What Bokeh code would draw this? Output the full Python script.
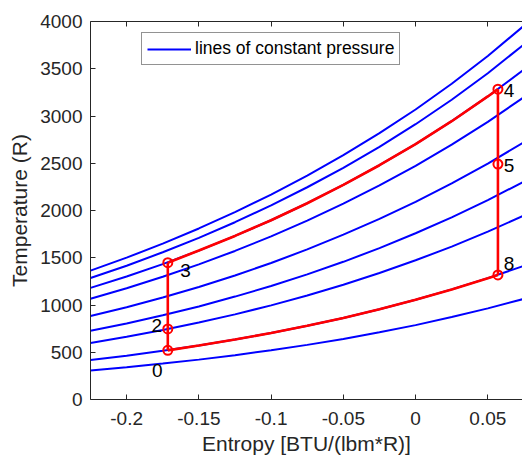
from bokeh.plotting import figure
from bokeh.models import Range1d, LinearAxis, FixedTicker, Legend, LegendItem
from bokeh.core.properties import value
from bokeh.embed import file_html
from bokeh.resources import INLINE

# ---- data ----
S = [-0.225, -0.2, -0.175, -0.15, -0.125, -0.1, -0.075, -0.05, -0.025, 0.0, 0.025, 0.05, 0.075]

T_iso1 = [1364, 1501, 1649, 1810, 1983, 2169, 2370, 2586, 2818, 3069, 3341, 3635, 3955]
T_iso2 = [1286, 1416, 1558, 1710, 1876, 2054, 2246, 2452, 2674, 2913, 3172, 3453, 3757]
T_iso3 = [1181, 1302, 1433, 1576, 1731, 1897, 2077, 2271, 2479, 2703, 2945, 3207, 3491]
T_iso4 = [1067, 1178, 1299, 1430, 1572, 1726, 1893, 2072, 2265, 2473, 2697, 2938, 3199]
T_iso5 = [883, 977, 1079, 1191, 1312, 1445, 1588, 1744, 1912, 2092, 2287, 2497, 2722]
T_iso6 = [727, 805, 891, 985, 1089, 1201, 1324, 1457, 1602, 1759, 1928, 2110, 2306]
T_iso7 = [598, 663, 735, 814, 901, 996, 1100, 1214, 1338, 1473, 1618, 1776, 1947]
T_iso8 = [418, 464, 516, 572, 635, 704, 780, 863, 955, 1055, 1165, 1284, 1414]
T_iso9 = [308, 342, 380, 422, 469, 521, 578, 641, 711, 787, 872, 964, 1065]

cycle_names = ["0", "2", "3", "4", "5", "8"]
cycle_s = [-0.1715, -0.1715, -0.1715, 0.057, 0.057, 0.057]
cycle_T = [520, 747, 1448, 3284, 2491, 1318]

label_s = [-0.1788, -0.1792, -0.1592, 0.0646, 0.0646, 0.0646]
label_T = [307, 783, 1365, 3269, 2476, 1436]

x_ticks = [-0.2, -0.15, -0.1, -0.05, 0.0, 0.05]
x_tick_labels = ["-0.2", "-0.15", "-0.1", "-0.05", "0", "0.05"]
y_ticks = [0, 500, 1000, 1500, 2000, 2500, 3000, 3500, 4000]

AX = "#262626"
FONT = "Liberation Sans"

p = figure(width=522, height=460, output_backend="svg", toolbar_location=None,
           x_range=Range1d(-0.225, 0.074), y_range=Range1d(0, 4000),
           min_border_left=90, min_border_right=0, min_border_top=21, min_border_bottom=61)
p.xgrid.visible = False
p.ygrid.visible = False
p.outline_line_color = None
p.background_fill_color = "white"


def style_axis(ax):
    ax.axis_line_color = AX
    ax.axis_line_width = 1
    ax.major_tick_line_color = AX
    ax.major_tick_in = 5
    ax.major_tick_out = 0
    ax.minor_tick_in = 0
    ax.minor_tick_out = 0
    ax.major_label_text_color = AX
    ax.major_label_text_font = FONT
    ax.major_label_text_font_size = "19px"
    ax.axis_label_text_font = FONT
    ax.axis_label_text_font_size = "21px"
    ax.axis_label_text_font_style = "normal"
    ax.axis_label_text_color = AX


xa = p.xaxis[0]
xa.ticker = FixedTicker(ticks=x_ticks)
xa.major_label_overrides = {t: l for t, l in zip(x_ticks, x_tick_labels)}
xa.axis_label = "Entropy [BTU/(lbm*R)]"
style_axis(xa)
xa.major_label_standoff = 12
xa.axis_label_standoff = 4

ya = p.yaxis[0]
ya.ticker = FixedTicker(ticks=y_ticks)
ya.axis_label = "Temperature (R)"
style_axis(ya)
ya.major_label_standoff = 8
ya.axis_label_standoff = 6

top = LinearAxis(ticker=FixedTicker(ticks=x_ticks))
style_axis(top)
top.major_label_overrides = {t: "" for t in x_ticks}
top.major_label_standoff = 0
p.add_layout(top, "above")

# isobars
BLUE = "#0000ff"
RED = "#ff0000"
isobars = [T_iso1, T_iso2, T_iso3, T_iso4, T_iso5, T_iso6, T_iso7, T_iso8, T_iso9]
renderers = []
for T in isobars:
    renderers.append(p.line(S, T, line_color=BLUE, line_width=2))

# cycle: upper heat addition along isobar 3, lower along isobar 8
s3, s4 = cycle_s[2], cycle_s[3]
up_s = [s3] + [s for s in S if s3 < s < s4] + [s4]
up_T = [cycle_T[2]] + [t for s, t in zip(S, T_iso3) if s3 < s < s4] + [cycle_T[3]]
s0, s8 = cycle_s[0], cycle_s[5]
lo_s = [s0] + [s for s in S if s0 < s < s8] + [s8]
lo_T = [cycle_T[0]] + [t for s, t in zip(S, T_iso8) if s0 < s < s8] + [cycle_T[5]]

p.line(up_s, up_T, line_color=RED, line_width=2.6)
p.line(lo_s, lo_T, line_color=RED, line_width=2.6)
p.line(cycle_s[0:3], cycle_T[0:3], line_color=RED, line_width=2.6)
p.line(cycle_s[3:6], cycle_T[3:6], line_color=RED, line_width=2.6)
p.scatter(cycle_s, cycle_T, marker="circle", size=9, line_color=RED, line_width=2,
          fill_color=None)

p.text(x=label_s, y=label_T, text=cycle_names, text_font=value(FONT),
       text_font_size="19px", text_align="center", text_baseline="middle",
       text_color="black")

legend = Legend(items=[LegendItem(label="lines of constant pressure", renderers=[renderers[0]])],
                location=(51, 334))
legend.label_text_font = FONT
legend.label_text_font_size = "17.5px"
legend.label_text_color = "black"
legend.border_line_color = AX
legend.border_line_width = 1
legend.background_fill_color = "white"
legend.background_fill_alpha = 1
legend.padding = 5
legend.spacing = 0
legend.margin = 0
legend.glyph_width = 44
legend.glyph_height = 18
legend.label_height = 18
legend.label_standoff = 4
p.add_layout(legend)

open("out.html", "w").write(file_html(p, INLINE))
